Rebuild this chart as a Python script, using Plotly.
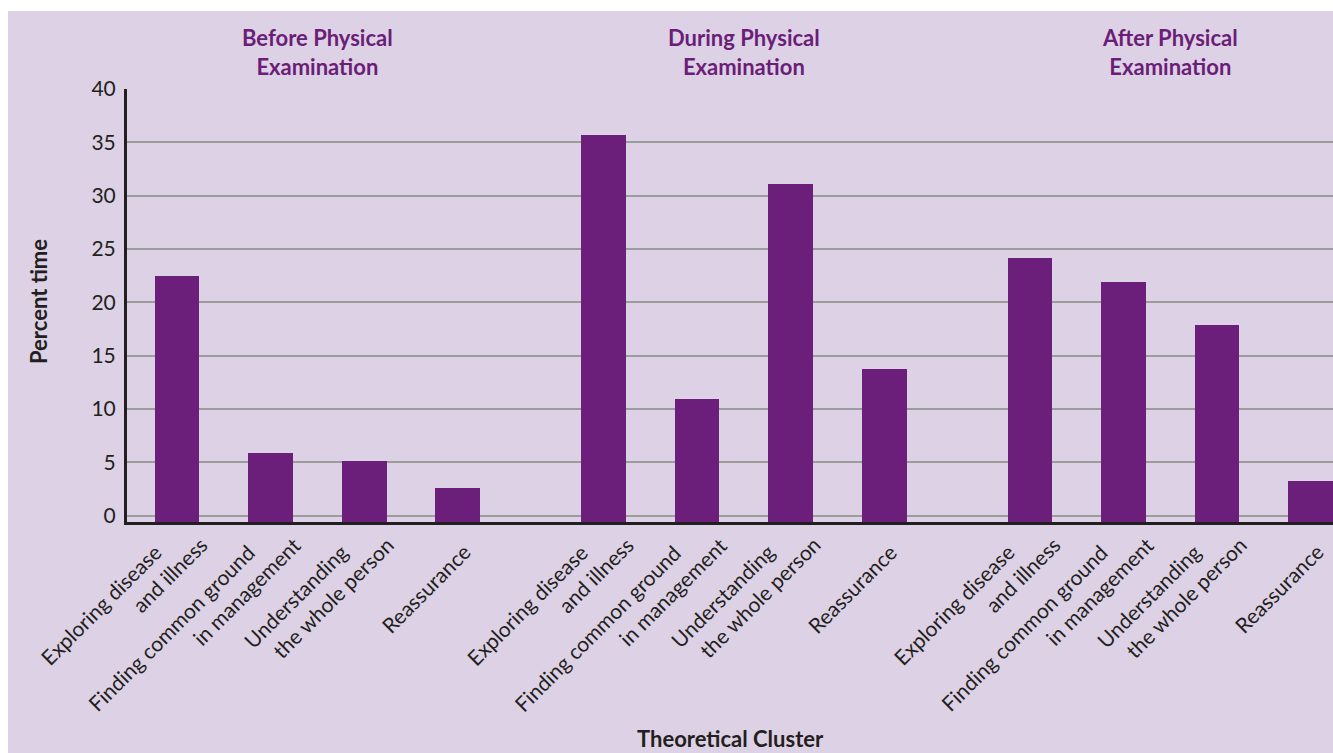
import plotly.graph_objects as go

# ---- data ----
phases = ["Before Physical<br>Examination", "During Physical<br>Examination", "After Physical<br>Examination"]
clusters = ["Exploring disease<br>and illness", "Finding common ground<br>in management",
            "Understanding<br>the whole person", "Reassurance"]
before = [22.5, 5.9, 5.1, 2.6]
during = [35.7, 10.9, 31.1, 13.7]
after = [24.2, 21.9, 17.9, 3.2]
y_ticks = [0, 5, 10, 15, 20, 25, 30, 35, 40]

series = [before, during, after]

# ---- layout helpers ----
GROUP_STEP = 4.56
Y_FLOOR = -0.6          # the x-axis line sits a little below the zero level
W, H = 1333, 753
ML, MR, MT, MB = 127, 0, 89, 231
PW, PH = W - ML - MR, H - MT - MB

BG = "#ddd1e5"
BAR = "#6b1e7a"
TXT = "#231f20"
FONT = "Lato"
PAD = "\u00a0" * 7

xs, ys = [], []
for g, vals in enumerate(series):
    for i, v in enumerate(vals):
        xs.append(i + g * GROUP_STEP)
        ys.append(v)

fig = go.Figure()
fig.add_trace(go.Bar(x=xs, y=[v - Y_FLOOR for v in ys], base=Y_FLOOR, width=0.48,
                     marker=dict(color=BAR, line=dict(width=0)),
                     customdata=ys, hovertemplate="%{customdata}<extra></extra>",
                     showlegend=False))

def px_x(p):
    return (p - ML) / PW

def px_y(p):
    return (H - MB - p) / PH

# background panel (white strip at left and top)
fig.add_shape(type="rect", xref="paper", yref="paper",
              x0=px_x(8), x1=px_x(W + 5), y0=px_y(H + 5), y1=px_y(11),
              fillcolor=BG, line=dict(width=0), layer="below")

# group titles
for g, name in enumerate(phases):
    fig.add_annotation(x=1.5 + g * GROUP_STEP, xref="x", y=px_y(51.5), yref="paper",
                       text="<b>" + name + "</b>", showarrow=False,
                       font=dict(family=FONT, size=22, color="#6b1e78"),
                       yanchor="middle", xanchor="center", align="center")

# rotated category labels under each bar
for g in range(len(series)):
    for i, lab in enumerate(clusters):
        two = "<br>" in lab
        text = lab.replace("<br>", PAD + "<br>") if two else lab
        fig.add_annotation(x=i + g * GROUP_STEP, xref="x", y=0, yref="paper",
                           text=text, showarrow=False, textangle=-45, align="right",
                           xanchor="right", yanchor="top",
                           xshift=37 if two else 20, yshift=12 if two else -15,
                           font=dict(family=FONT, size=21, color=TXT))

# axis titles
fig.add_annotation(x=0.5, xref="paper", y=px_y(738), yref="paper",
                   text="<b>Theoretical Cluster</b>", showarrow=False,
                   font=dict(family=FONT, size=22, color=TXT), yanchor="middle")
fig.add_annotation(x=px_x(38), xref="paper", y=px_y(302), yref="paper",
                   text="<b>Percent time</b>", showarrow=False, textangle=-90,
                   font=dict(family=FONT, size=22, color=TXT), xanchor="center", yanchor="middle")

fig.update_layout(
    width=W, height=H,
    margin=dict(l=ML, r=MR, t=MT, b=MB, pad=0),
    paper_bgcolor="white", plot_bgcolor=BG,
    font=dict(family=FONT, color=TXT),
    bargap=0,
)
fig.update_xaxes(range=[-0.535, 12.36], showticklabels=False, showgrid=False,
                 showline=True, linecolor=TXT, linewidth=3, ticks="", zeroline=False)
fig.update_yaxes(range=[Y_FLOOR, 40], tickvals=y_ticks, showgrid=True, gridcolor="#9c9c9c", gridwidth=1.5,
                 tickfont=dict(family=FONT, size=21, color=TXT), showline=True, linecolor=TXT,
                 linewidth=3, zeroline=False, ticks="", ticklabelstandoff=4)

fig.write_html("out.html", config={"displayModeBar": False},
               post_script="document.body.style.margin='0';document.body.style.overflow='hidden';")
